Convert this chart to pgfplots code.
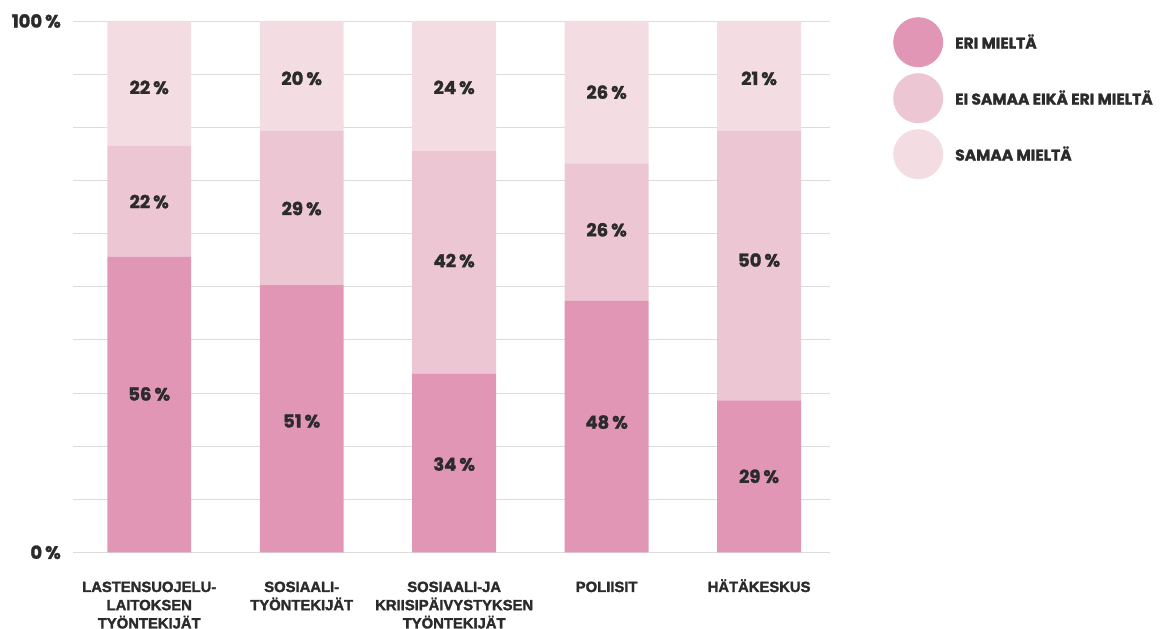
\documentclass[border=0pt]{standalone}
\usepackage{pgfplots}
\pgfplotsset{compat=1.18}
\usepackage{fontspec}
\setmainfont{Poppins}[BoldFeatures={FakeBold=1.5}]
\newfontfamily\lib{Liberation Sans}[BoldFeatures={FakeBold=2}]
\definecolor{cA}{HTML}{E296B5}
\definecolor{cB}{HTML}{EDC6D4}
\definecolor{cC}{HTML}{F3DDE3}
\definecolor{txt}{HTML}{2B2B2B}
\definecolor{gridc}{HTML}{DCDCDC}
\begin{document}
\begin{tikzpicture}[x=1pt,y=1pt]
\path[use as bounding box] (0,0) rectangle (1160,629);
\pgfplotsset{base/.style={
  at={(73pt,76.7pt)}, anchor=south west, scale only axis, width=757pt, height=531.3pt,
  xmin=-0.5, xmax=4.465, ymin=0, ymax=100,
}}
\begin{axis}[base, ybar stacked, bar width=0.55,
  axis line style={draw=none}, major tick length=0pt,
  ymajorgrids, grid style={gridc, line width=0.8pt},
  ytick={0,10,...,100}, yticklabels={0\,\%,,,,,,,,,,100\,\%},
  yticklabel style={font=\fontsize{18}{18}\selectfont\bfseries, text=txt, anchor=east, inner sep=0pt, xshift=-12pt},
  xtick={0,...,4},
  xticklabels={{\rule{0pt}{14pt}LASTENSUOJELU-\\LAITOKSEN\\TYÖNTEKIJÄT},{\rule{0pt}{14pt}SOSIAALI-\\TYÖNTEKIJÄT},{\rule{0pt}{14pt}SOSIAALI-JA\\KRIISIPÄIVYSTYKSEN\\TYÖNTEKIJÄT},{\rule{0pt}{14pt}POLIISIT},{\rule{0pt}{14pt}HÄTÄKESKUS}},
  xticklabel style={font=\lib\fontsize{14.8}{18.2}\selectfont\bfseries, text=txt, align=center, anchor=north, inner sep=0pt, yshift=-25.5pt},
  legend cell align=left,
  legend style={at={(1,1)}, anchor=north west, xshift=63pt, yshift=4pt, draw=none, fill=none, inner sep=0pt, row sep=6pt, column sep=12pt,
    nodes={inner sep=0pt, font=\fontsize{15.5}{15.5}\selectfont\bfseries, text=txt}},
]
\addplot[fill=cA, draw=none, legend image code/.code={\fill[cA] (25pt,0pt) circle[radius=25pt];}]
  coordinates {(0,55.6) (1,50.3) (2,33.6) (3,47.3) (4,28.6)};
\addplot[fill=cB, draw=none, legend image code/.code={\fill[cB] (25pt,0pt) circle[radius=25pt];}]
  coordinates {(0,20.9) (1,29.0) (2,41.9) (3,25.9) (4,50.7)};
\addplot[fill=cC, draw=none, legend image code/.code={\fill[cC] (25pt,0pt) circle[radius=25pt];}]
  coordinates {(0,23.5) (1,20.7) (2,24.5) (3,26.8) (4,20.7)};
\legend{ERI MIELTÄ, EI SAMAA EIKÄ ERI MIELTÄ, SAMAA MIELTÄ}
\end{axis}
\begin{axis}[base, hide axis]
\addplot[draw=none, mark=none, nodes near coords, point meta=explicit symbolic,
  nodes near coords style={anchor=center, inner sep=0pt, font=\fontsize{18}{18}\selectfont\bfseries, text=txt}]
  coordinates {(0,29.8)[56\,\%] (1,24.7)[51\,\%] (2,16.6)[34\,\%] (3,24.5)[48\,\%] (4,14.3)[29\,\%]
               (0,66.0)[22\,\%] (1,64.7)[29\,\%] (2,54.9)[42\,\%] (3,60.7)[26\,\%] (4,55.0)[50\,\%]
               (0,87.5)[22\,\%] (1,89.2)[20\,\%] (2,87.5)[24\,\%] (3,86.6)[26\,\%] (4,89.2)[21\,\%]};
\end{axis}
\end{tikzpicture}
\end{document}
